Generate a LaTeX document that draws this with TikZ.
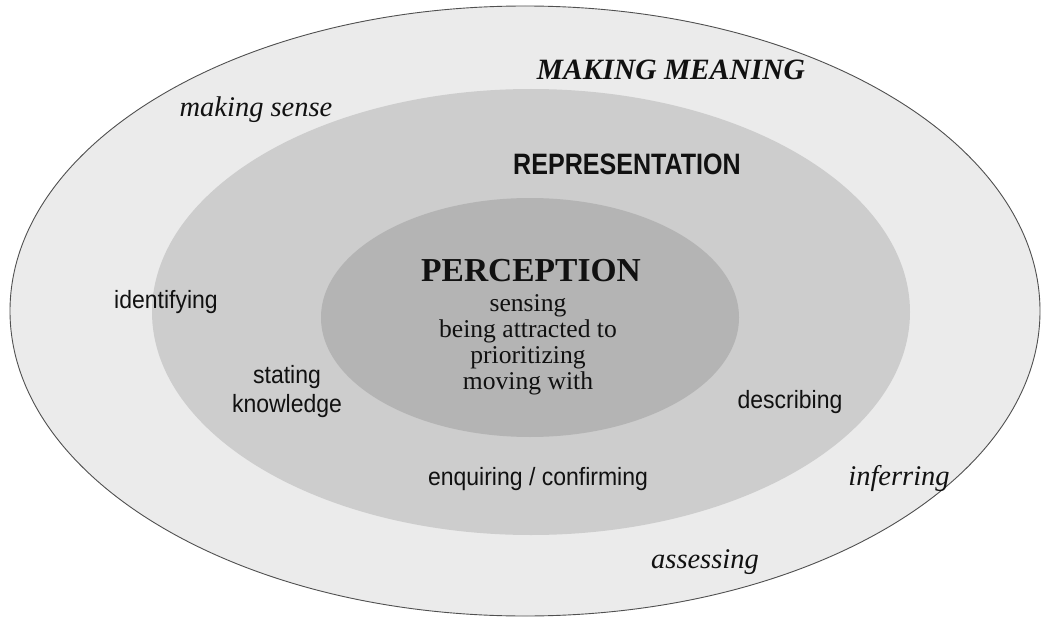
\documentclass[tikz,border=0pt]{standalone}
\usepackage{fontspec}
\setmainfont{Liberation Serif}
\newfontfamily\sansn[FakeStretch=0.92]{Liberation Sans}
\newfontfamily\sansc[FakeStretch=0.85]{Liberation Sans}
\definecolor{ringout}{HTML}{EBEBEB}
\definecolor{ringmid}{HTML}{CDCDCD}
\definecolor{ringin}{HTML}{B4B4B4}
\definecolor{edgegrey}{HTML}{505050}
\definecolor{inkc}{HTML}{111111}
\tikzset{
  lbl/.style={anchor=base, inner sep=0pt, text=inkc},
  sanslbl/.style={lbl, font=\sansn\fontsize{25}{29}\selectfont},
  itlbl/.style={lbl, font=\itshape\fontsize{28.5}{32}\selectfont},
  serlbl/.style={lbl, font=\fontsize{25.6}{25.7}\selectfont, align=center},
}
\begin{document}
\begin{tikzpicture}[x=1pt,y=-1pt]
\useasboundingbox (0,0) rectangle (1042,618);
\fill[white] (0,0) rectangle (1042,618);
% rings
\filldraw[fill=ringout, draw=edgegrey, line width=0.9pt] (525,311) ellipse [x radius=515, y radius=305];
\fill[ringmid] (531,312) ellipse [x radius=379, y radius=223];
\fill[ringin] (530,317.5) ellipse [x radius=209, y radius=119.5];
% outer ring labels
\node[lbl, font=\bfseries\itshape\fontsize{29.5}{32}\selectfont] (mm) at (671,80) {MAKING MEANING};
\node[itlbl] (ms) at (256,116) {making sense};
\node[itlbl] (inf) at (899,485) {inferring};
\node[itlbl] (ass) at (705,568) {assessing};
% middle ring labels
\node[lbl, font=\sansc\bfseries\fontsize{29.5}{32}\selectfont] (rep) at (627,174) {REPRESENTATION};
\node[sanslbl] (idf) at (166,308) {identifying};
\node[sanslbl, align=center] (stk) at (287,412) {stating\\knowledge};
\node[sanslbl] (desc) at (790,408) {describing};
\node[sanslbl] (enq) at (538,485) {enquiring / confirming};
% inner labels
\node[lbl, font=\bfseries\fontsize{33.5}{36}\selectfont] (perc) at (531,281) {PERCEPTION};
\node[serlbl] (pitems) at (528,389) {sensing\\being attracted to\\prioritizing\\moving with};
\end{tikzpicture}
\end{document}
